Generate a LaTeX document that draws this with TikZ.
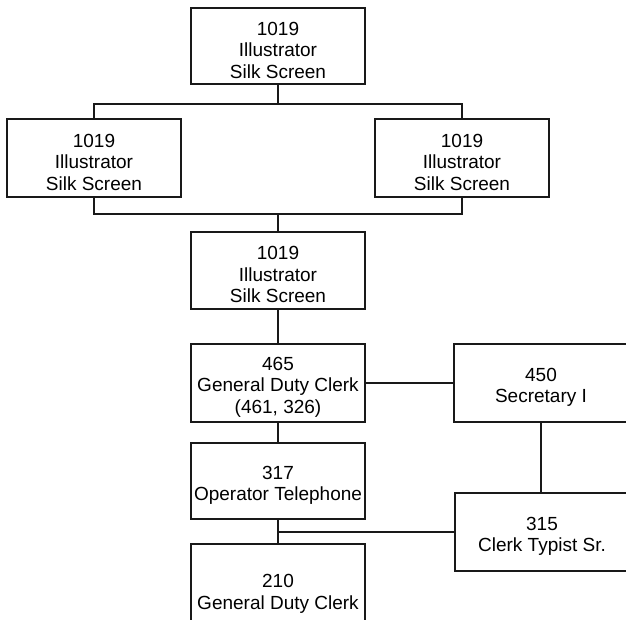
\documentclass[tikz,border=0pt]{standalone}
\usepackage{fontspec}
\setmainfont{Liberation Sans}
% a tall strut on the first line sets the text a little lower in its box
\newcommand\jobstrut{\rule{0pt}{21.6pt}}
\begin{document}
\begin{tikzpicture}[x=1pt,y=-1pt,
  job/.style={draw=black!90, line width=2pt, fill=white, rectangle,
    minimum width=174pt, minimum height=#1, inner sep=0pt, align=center,
    font=\fontsize{19}{21.5}\selectfont},
  job/.default=77pt,
  link/.style={draw=black!90, line width=2pt}]
\useasboundingbox (0,0) rectangle (626,619);
\clip (0,0) rectangle (626,619);

% positions
\node[job=76pt] (top) at (278,46)    {\jobstrut 1019\\Illustrator\\Silk Screen};
\node[job=78pt] (left) at (94,158)   {\jobstrut 1019\\Illustrator\\Silk Screen};
\node[job=78pt] (right) at (462,158) {\jobstrut 1019\\Illustrator\\Silk Screen};
\node[job=77pt] (mid) at (278,270.5) {\jobstrut 1019\\Illustrator\\Silk Screen};
\node[job=78pt] (gdc) at (278,383)   {\jobstrut 465\\General Duty Clerk\\(461, 326)};
\node[job=78pt] (sec) at (541,383)   {\jobstrut 450\\Secretary I};
\node[job=76pt] (op) at (278,481)    {\jobstrut 317\\Operator Telephone};
\node[job=78pt] (typ) at (542,532)   {\jobstrut 315\\Clerk Typist Sr.};
\node[job=91pt] (gdc2) at (278,589.5) {\jobstrut 210\\General Duty Clerk};

% junction points
\coordinate (j1) at (278,104);
\coordinate (j2) at (278,214);
\coordinate (j3) at (278,532);

% connectors
\draw[link] (top.south) -- (j1);
\draw[link] (left.north) |- (j1) -| (right.north);
\draw[link] (left.south) |- (j2) -| (right.south);
\draw[link] (j2) -- (mid.north);
\draw[link] (mid.south) -- (gdc.north);
\draw[link] (gdc.east) -- (sec.west);
\draw[link] (gdc.south) -- (op.north);
\draw[link] (sec.south) -- (sec.south |- typ.north);
\draw[link] (op.south) -- (gdc2.north);
\draw[link] (j3) -- (typ.west);
\end{tikzpicture}
\end{document}
